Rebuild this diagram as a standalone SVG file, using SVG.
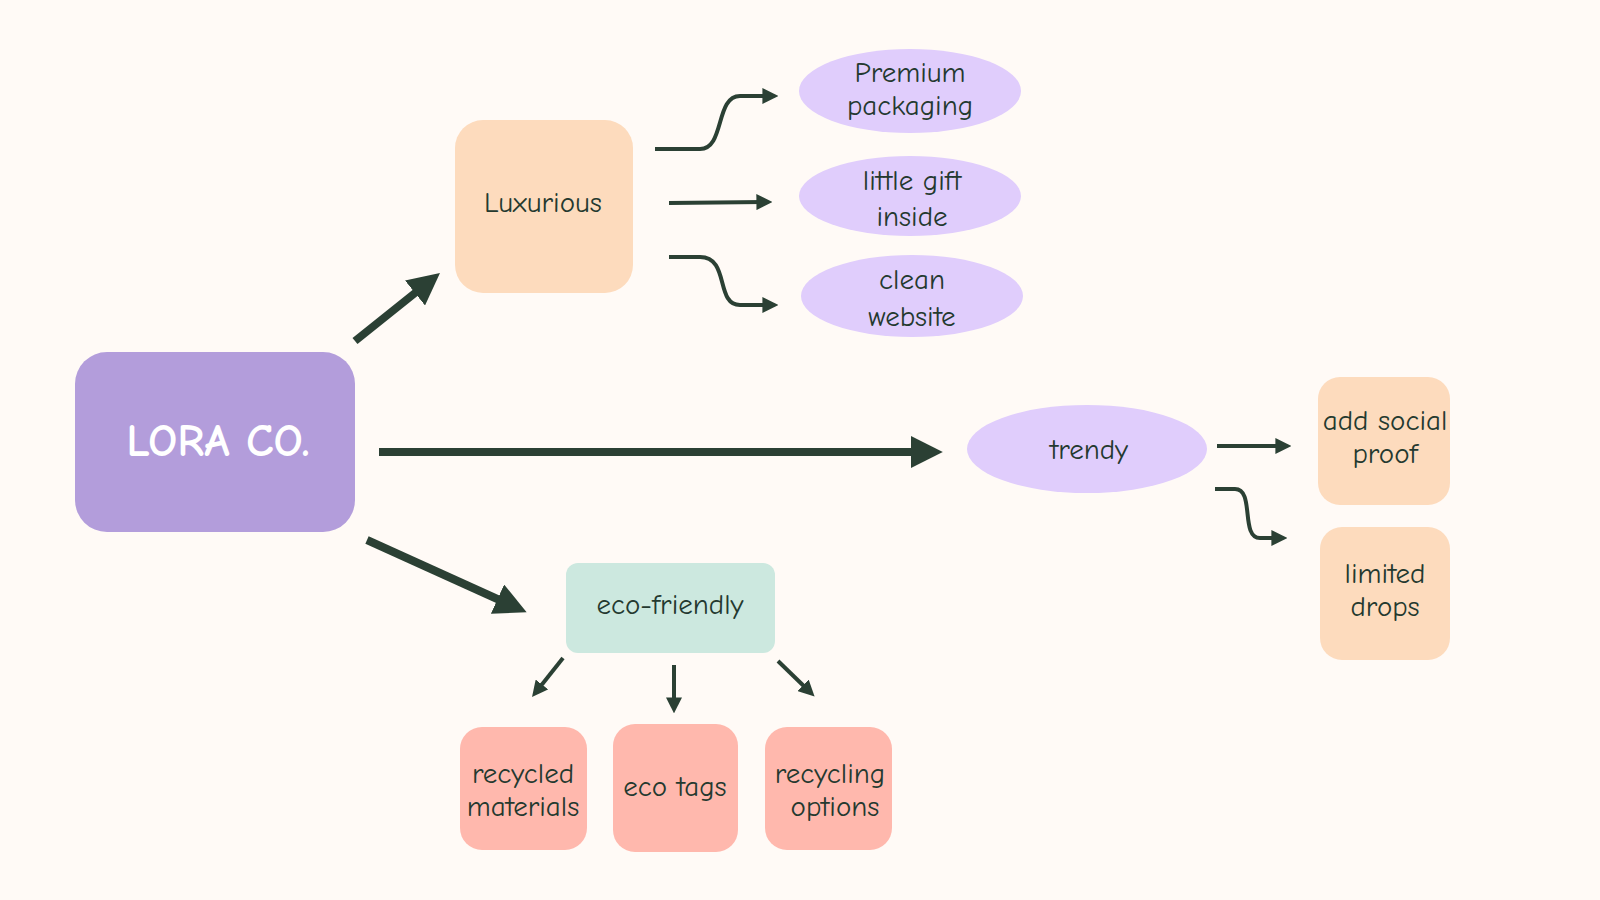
<svg xmlns="http://www.w3.org/2000/svg" width="1600" height="900" viewBox="0 0 1600 900">
<style>
text{font-family:"Comic Neue","Open Sans","DejaVu Sans",sans-serif;fill:#24392f;text-anchor:middle;font-size:29px}
.thick{stroke:#2b4034;stroke-width:8;fill:none}
.thin{stroke:#2b4034;stroke-width:4;fill:none}
.orange{fill:#fddbbd}.purple{fill:#e0cdfc}.pink{fill:#ffb8ad}
.title{font-size:46px;fill:#fff;font-weight:bold}
</style>
<defs>
<marker id="big" viewBox="0 0 10 10" refX="6" refY="5" markerWidth="4" markerHeight="4" orient="auto" markerUnits="strokeWidth"><path d="M0,0L10,5L0,10z" fill="#2b4034"/></marker>
<marker id="sm" viewBox="0 0 10 10" refX="6" refY="5" markerWidth="4" markerHeight="4" orient="auto" markerUnits="strokeWidth"><path d="M0,0L10,5L0,10z" fill="#2b4034"/></marker>
</defs>
<rect width="1600" height="900" fill="#fffaf6"/>
<g id="connectors">
<path class="thick" d="M355,341L430,281" marker-end="url(#big)"/>
<path class="thick" d="M379,452L930,452" marker-end="url(#big)"/>
<path class="thick" d="M367,540L515,607" marker-end="url(#big)"/>
<path class="thin" d="M655,149H700C725,149 715,96 740,96H772" marker-end="url(#sm)"/>
<path class="thin" d="M669,203L766,202" marker-end="url(#sm)"/>
<path class="thin" d="M669,257H700C730,257 715,305 740,305H772" marker-end="url(#sm)"/>
<path class="thin" d="M1217,446L1285,446" marker-end="url(#sm)"/>
<path class="thin" d="M1215,489H1235C1255,489 1240,538 1260,538H1281" marker-end="url(#sm)"/>
<path class="thin" d="M563,658L536,692" marker-end="url(#sm)"/>
<path class="thin" d="M674,665L674,707" marker-end="url(#sm)"/>
<path class="thin" d="M778,661L810,692" marker-end="url(#sm)"/>
</g>
<g id="lora"><rect x="75" y="352" width="280" height="180" rx="32" fill="#b39ddb"/><text x="218" y="456" class="title">LORA CO.</text></g>
<g id="luxurious"><rect x="455" y="120" width="178" height="173" rx="28" class="orange"/><text x="543" y="212">Luxurious</text></g>
<g id="premium"><ellipse cx="910" cy="91" rx="111" ry="42" class="purple"/><text x="910" y="82">Premium</text><text x="910" y="115">packaging</text></g>
<g id="gift"><ellipse cx="910" cy="196" rx="111" ry="40" class="purple"/><text x="912" y="190">little gift</text><text x="912" y="226">inside</text></g>
<g id="clean"><ellipse cx="912" cy="296" rx="111" ry="41" class="purple"/><text x="912" y="289">clean</text><text x="912" y="326">website</text></g>
<g id="trendy"><ellipse cx="1087" cy="449" rx="120" ry="44" class="purple"/><text x="1089" y="459">trendy</text></g>
<g id="social"><rect x="1318" y="377" width="132" height="128" rx="22" class="orange"/><text x="1385" y="430">add social</text><text x="1385" y="463">proof</text></g>
<g id="limited"><rect x="1320" y="527" width="130" height="133" rx="22" class="orange"/><text x="1385" y="583">limited</text><text x="1385" y="616">drops</text></g>
<g id="eco"><rect x="566" y="563" width="209" height="90" rx="12" fill="#cce8df"/><text x="670" y="614">eco-friendly</text></g>
<g id="recycled"><rect x="460" y="727" width="127" height="123" rx="22" class="pink"/><text x="523" y="783">recycled</text><text x="523" y="816">materials</text></g>
<g id="ecotags"><rect x="613" y="724" width="125" height="128" rx="22" class="pink"/><text x="675" y="796">eco tags</text></g>
<g id="recycling"><rect x="765" y="727" width="127" height="123" rx="22" class="pink"/><text x="830" y="783">recycling</text><text x="835" y="816">options</text></g>
</svg>
